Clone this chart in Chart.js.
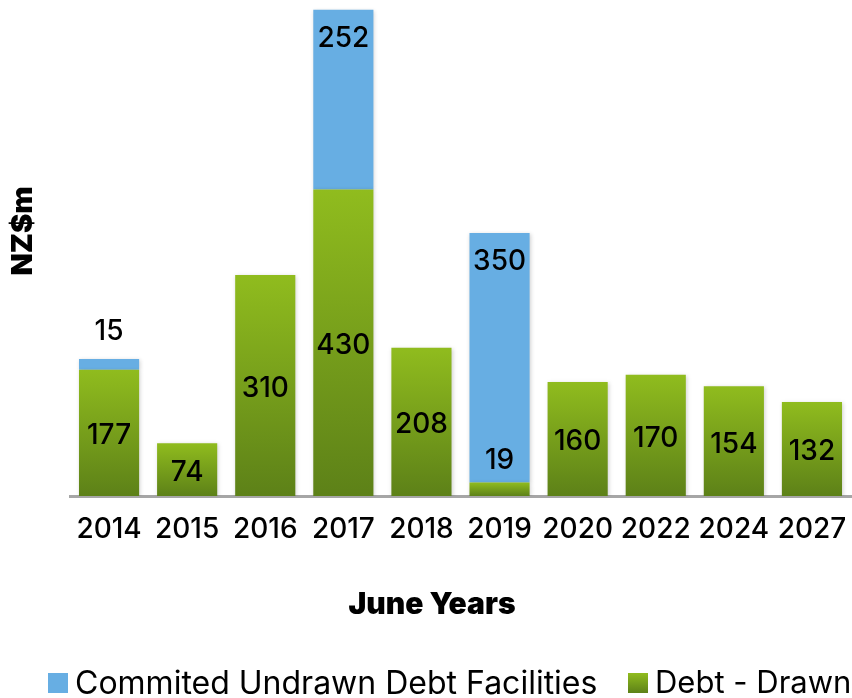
<!DOCTYPE html>
<html>
<head>
<meta charset="utf-8">
<script src="https://cdn.jsdelivr.net/npm/chart.js@4.4.1/dist/chart.umd.min.js"></script>
<style>
  html, body { margin: 0; padding: 0; background: #fff; }
  #wrap { width: 852px; height: 698px; position: relative; }
</style>
</head>
<body>
<div id="wrap"><canvas id="chart"></canvas></div>
<script>
// June years and the debt figures (NZ$m) for each
var years = ['2014', '2015', '2016', '2017', '2018', '2019', '2020', '2022', '2024', '2027'];
var drawnDebt = [177, 74, 310, 430, 208, 19, 160, 170, 154, 132];
var undrawnFacilities = [15, null, null, 252, null, 350, null, null, null, null];

var FONT = 'Inter, "Noto Sans", sans-serif';
var BLUE = '#67aee3';

function greenFill(chart, top, bottom) {
    var g = chart.ctx.createLinearGradient(0, top, 0, bottom);
    g.addColorStop(0, '#90bc1e');
    g.addColorStop(1, '#5d8118');
    return g;
}

function barGreen(ctx) {
    var chart = ctx.chart;
    if (!chart.chartArea || !chart.scales.y) return '#7ba01c';
    var v = ctx.raw || 0;
    var top = chart.scales.y.getPixelForValue(v);
    var bottom = chart.scales.y.getPixelForValue(0);
    if (bottom - top < 2) return '#7ba01c';
    return greenFill(chart, top, bottom);
}

// value labels, axis titles and legend
var extras = {
    id: 'extras',
    beforeDatasetsDraw: function (chart) {
        chart.ctx.save();
        chart.ctx.shadowColor = 'rgba(0,0,0,0.18)';
        chart.ctx.shadowBlur = 4;
        chart.ctx.shadowOffsetX = 1;
        chart.ctx.shadowOffsetY = 1;
    },
    afterDatasetsDraw: function (chart) {
        chart.ctx.restore();
        var ctx = chart.ctx;
        ctx.save();
        ctx.fillStyle = '#000';
        ctx.font = '500 28px ' + FONT;
        ctx.textAlign = 'center';
        ctx.textBaseline = 'middle';

        var greenMeta = chart.getDatasetMeta(0);
        var blueMeta = chart.getDatasetMeta(1);
        greenMeta.data.forEach(function (bar, i) {
            var h = bar.base - bar.y;
            var y = h < 30 ? bar.y - 22 : (bar.y + bar.base) / 2 + 3;
            ctx.fillText(String(drawnDebt[i]), bar.x, y);
        });
        blueMeta.data.forEach(function (bar, i) {
            var v = undrawnFacilities[i];
            if (v == null) return;
            var h = bar.base - bar.y;
            var y = h < 30 ? bar.y - 28 : bar.y + 29;
            ctx.fillText(String(v), bar.x, y);
        });

        // x-axis title
        ctx.font = '900 30px ' + FONT;
        ctx.fillText('June Years', 432, 605);

        // y-axis title
        ctx.save();
        ctx.translate(23, 231);
        ctx.rotate(-Math.PI / 2);
        ctx.font = '900 29px ' + FONT;
        ctx.fillText('NZ$m', 0, 0);
        ctx.restore();

        // legend
        var ly = 683;
        ctx.textAlign = 'left';
        ctx.fillStyle = BLUE;
        ctx.fillRect(48, ly - 10, 20, 20);
        ctx.fillStyle = greenFill(chart, ly - 10, ly + 10);
        ctx.fillRect(628, ly - 10, 20, 20);
        ctx.fillStyle = '#000';
        ctx.font = '32px ' + FONT;
        ctx.fillText('Commited Undrawn Debt Facilities', 75, ly + 1);
        ctx.font = '31px ' + FONT;
        ctx.fillText('Debt - Drawn', 655, ly + 1);
        ctx.restore();
    }
};

new Chart(document.getElementById('chart'), {
    type: 'bar',
    data: {
        labels: years,
        datasets: [{
            label: 'Debt - Drawn',
            data: drawnDebt,
            backgroundColor: barGreen,
            borderWidth: 0
        }, {
            label: 'Commited Undrawn Debt Facilities',
            data: undrawnFacilities,
            backgroundColor: BLUE,
            borderWidth: 0
        }]
    },
    plugins: [extras],
    options: {
        responsive: true,
        maintainAspectRatio: false,
        animation: false,
        layout: { padding: { left: 70, right: 1, top: 4, bottom: 142 } },
        datasets: { bar: { categoryPercentage: 1, barPercentage: 0.77 } },
        plugins: { legend: { display: false }, tooltip: { enabled: false } },
        scales: {
            x: {
                stacked: true,
                grid: { display: false, drawTicks: false },
                border: { display: true, color: '#a6a6a6', width: 3 },
                ticks: { color: '#000', padding: 17, font: { family: FONT, size: 28, weight: '500', lineHeight: 1.2 } },
                afterFit: function (scale) {
                    scale.height = 60;
                    scale.paddingLeft = 0;
                    scale.paddingRight = 0;
                }
            },
            y: {
                stacked: true,
                display: false,
                min: 0,
                max: 690
            }
        }
    }
});
</script>
</body>
</html>
